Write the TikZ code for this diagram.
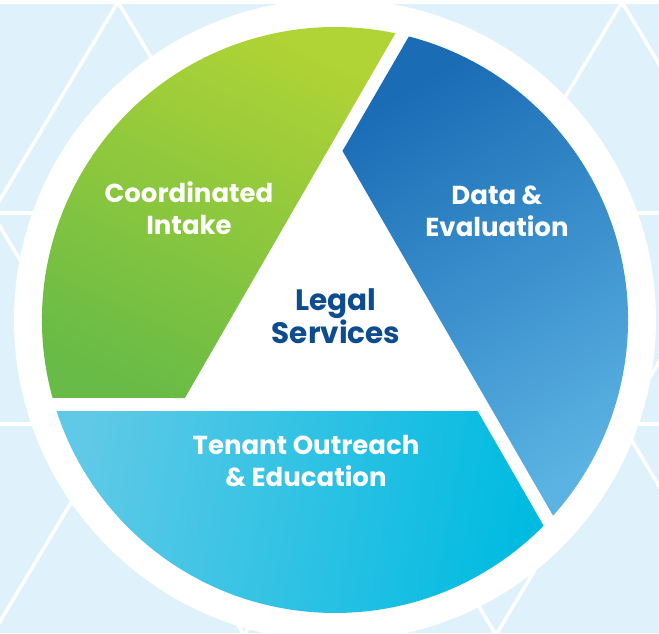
\documentclass[tikz,border=0pt]{standalone}
\usepackage{fontspec}
\setmainfont{Poppins}
\definecolor{bgblue}{HTML}{DFF1FB}
\definecolor{greentop}{HTML}{B0D335}
\definecolor{greenbot}{HTML}{68BB46}
\definecolor{bluetop}{HTML}{1A6CB5}
\definecolor{bluebot}{HTML}{5BB3E3}
\definecolor{cyanleft}{HTML}{5FC9E7}
\definecolor{cyanright}{HTML}{00BBE1}
\definecolor{navy}{HTML}{0D4C8E}
\tikzset{
  lattice/.style={draw=white, line width=3.5pt},
  wlabel/.style={text=white, align=center, font=\bfseries\fontsize{26}{32}\selectfont},
  clabel/.style={text=navy, align=center, font=\bfseries\fontsize{29.5}{31}\selectfont},
}
\begin{document}
\begin{tikzpicture}[x=1pt,y=1pt]
\useasboundingbox (0,0) rectangle (659,633);
\begin{scope}
\clip (0,0) rectangle (659,633);
\fill[bgblue] (0,0) rectangle (659,633);
% triangle lattice
\foreach \yy in {631,420,209} \draw[lattice] (-10,\yy) -- (670,\yy);
\foreach \r/\ya/\yb/\xo in {0/631/420/118, 1/420/209/-8, 2/209/-2/118} {
  \foreach \k in {-1,0,1,2,3} {
    \draw[lattice] (\xo+252*\k-126,\yb) -- (\xo+252*\k,\ya) -- (\xo+252*\k+126,\yb);
  }
}
% white ring
\fill[white] (335,313) circle[radius=321];
\end{scope}
\begin{scope}[shift={(335,313)}]
% Tenant Outreach (bottom)
\shade[left color=cyanleft, right color=cyanright, shading angle=80]
  (-32.54:169.2) -- (-44.6:293) arc[start angle=-44.6, end angle=-161.9, radius=293] -- cycle;
% Data & Evaluation (right)
\shade[top color=bluetop, bottom color=bluebot, shading angle=30]
  (87.46:169.2) -- (75.4:293) arc[start angle=75.4, end angle=-41.9, radius=293] -- cycle;
% Coordinated Intake (left)
\shade[top color=greentop, bottom color=greenbot, shading angle=-25]
  (207.46:169.2) -- (195.4:293) arc[start angle=195.4, end angle=78.1, radius=293] -- cycle;
\end{scope}
\node[wlabel] (ci) at (189,425) {Coordinated\\Intake};
\node[wlabel] (de) at (497,422) {Data \&\\Evaluation};
\node[clabel] (ls) at (336,317) {Legal\\Services};
\node[wlabel] (to) at (306,172) {Tenant Outreach\\\& Education};
\end{tikzpicture}
\end{document}
